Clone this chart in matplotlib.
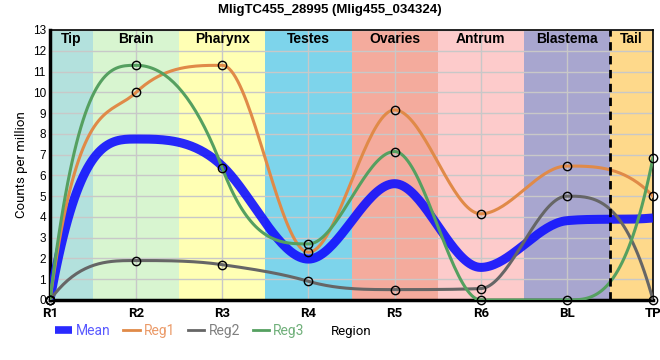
import numpy as np
import matplotlib
matplotlib.use("Agg")
import matplotlib.pyplot as plt
from matplotlib.lines import Line2D

plt.rcParams["font.family"] = ["Roboto", "DejaVu Sans"]

categories = ["R1", "R2", "R3", "R4", "R5", "R6", "BL", "TP"]
reg1 = [0, 10.0, 11.3, 2.3, 9.15, 4.15, 6.45, 5.0]
reg2 = [0, 1.9, 1.7, 0.9, 0.5, 0.55, 5.0, 0]
reg3 = [0, 11.3, 6.35, 2.7, 7.15, 0, 0, 6.85]
mean = [0, 7.75, 6.45, 1.97, 5.6, 1.57, 3.82, 3.95]

regions = ["Tip", "Brain", "Pharynx", "Testes", "Ovaries", "Antrum", "Blastema", "Tail"]
region_edges = [0, 0.5, 1.5, 2.5, 3.5, 4.5, 5.5, 6.5, 7]
region_colors = ["#b3e1dd", "#d8f5d0", "#ffffb4", "#7dd4eb", "#f4ab9d",
                 "#fdcbcb", "#a8a6cf", "#fed98b"]


def monotone(y, n=40):
    # monotone cubic hermite, slopes at the Hyman limit (3x smaller secant)
    y = np.asarray(y, float)
    s = np.diff(y)
    S0 = np.concatenate([[s[0]], s])
    S1 = np.concatenate([s, [s[-1]]])
    t = np.where(S0 * S1 > 0, np.sign(S1) * 3 * np.minimum(abs(S0), abs(S1)), 0.0)
    xs, ys = [], []
    for i in range(len(y) - 1):
        u = np.linspace(0, 1, n)
        h00 = 2 * u**3 - 3 * u**2 + 1
        h10 = u**3 - 2 * u**2 + u
        h01 = -2 * u**3 + 3 * u**2
        h11 = u**3 - u**2
        xs.append(i + u)
        ys.append(h00 * y[i] + h10 * t[i] + h01 * y[i + 1] + h11 * t[i + 1])
    return np.concatenate(xs), np.concatenate(ys)


fig = plt.figure(figsize=(6.6, 3.6), dpi=100)
ax = fig.add_axes([50 / 660, 60 / 360, 603 / 660, 270 / 360])

for i, name in enumerate(regions):
    ax.axvspan(region_edges[i], region_edges[i + 1], color=region_colors[i], lw=0, zorder=0)
    ax.text((region_edges[i] + region_edges[i + 1]) / 2, 12.55, name, ha="center", va="center",
            fontsize=10, fontweight="bold", family="Liberation Sans", zorder=5)

ax.grid(True, color="#c8c8c8", lw=1, zorder=1)
ax.set_axisbelow(True)
ax.axvline(6.5, color="black", ls=(0, (3, 2)), lw=2, zorder=6)

x = np.arange(len(categories))
xs, ys = monotone(mean)
ax.plot(xs, ys, color="#1010ff", lw=6.5, alpha=0.9, zorder=3, solid_capstyle="butt")
for vals, col in [(reg1, "#e08a48"), (reg2, "#666666"), (reg3, "#55a060")]:
    xs, ys = monotone(vals)
    ax.plot(xs, ys, color=col, lw=2.2, zorder=4)
    ax.plot(x, vals, "o", ms=6, mfc="none", mec="black", mew=1, zorder=6, clip_on=False)

ax.set_xlim(0, 7)
ax.set_ylim(0, 13)
ax.set_xticks(x)
ax.set_xticklabels(categories, fontsize=9.5, fontweight="bold")
ax.set_yticks(range(14))
ax.set_yticklabels([str(v) for v in range(14)], family="Liberation Sans", fontsize=8.5)
ax.tick_params(axis="y", length=0, pad=3)
ax.tick_params(axis="x", length=0, pad=5)
ax.set_ylabel("Counts per million", fontsize=9.5, labelpad=3)
for side in ["left", "bottom"]:
    ax.spines[side].set_linewidth(2.5)
for side in ["right", "top"]:
    ax.spines[side].set_linewidth(1.2)

fig.suptitle("MligTC455_28995 (Mlig455_034324)", fontsize=9.5, fontweight="bold",
             family="Liberation Sans", y=0.99)

handles = [Line2D([], [], color="#2a2aff", lw=5.5, solid_capstyle="butt"),
           Line2D([], [], color="#e08a48", lw=2),
           Line2D([], [], color="#666666", lw=2),
           Line2D([], [], color="#55a060", lw=2)]
leg = fig.legend(handles, ["Mean", "Reg1", "Reg2", "Reg3"], loc="center left",
                 bbox_to_anchor=(55 / 660, 1 - 331 / 360), ncol=4, frameon=False,
                 fontsize=10, handlelength=1.2, handletextpad=0.3, columnspacing=0.9,
                 borderpad=0, borderaxespad=0)
for txt, c in zip(leg.get_texts(), ["#5a5aff", "#eb9a68", "#808080", "#70b07a"]):
    txt.set_color(c)
fig.text(331 / 660, 1 - 331 / 360, "Region", fontsize=9.5, va="center", ha="left")

fig.savefig("out.png", dpi=100)
